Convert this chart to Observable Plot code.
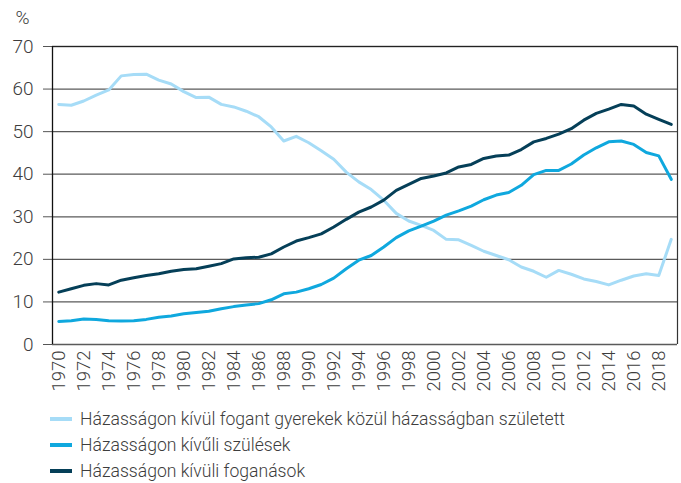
<!DOCTYPE html>
<html><head><meta charset="utf-8">
<script src="https://cdn.jsdelivr.net/npm/d3@7"></script>
<script src="https://cdn.jsdelivr.net/npm/@observablehq/plot@0.6"></script>
<style>
body{margin:0;background:#fff;font-family:Roboto,"Liberation Sans",sans-serif;font-weight:300;color:#3d3d3d;}
#legend{margin:11px 0 0 50px;}
.row{height:26px;display:flex;align-items:center;font-size:17.6px;line-height:20px;}
.sw{width:22px;height:3.5px;margin-right:8px;}
</style>
</head><body><div id="chart"></div><div id="legend"></div>
<script>
const years = [1970,1971,1972,1973,1974,1975,1976,1977,1978,1979,1980,1981,1982,1983,1984,1985,1986,1987,1988,1989,1990,1991,1992,1993,1994,1995,1996,1997,1998,1999,2000,2001,2002,2003,2004,2005,2006,2007,2008,2009,2010,2011,2012,2013,2014,2015,2016,2017,2018,2019];
const seriesNames = ["Házasságon kívül fogant gyerekek közül házasságban született","Házasságon kívűli szülések","Házasságon kívüli foganások"];
const seriesColors = ["#a6dcf7","#0fa8de","#053f58"];
const marriedAmongExtramarital = [56.4,56.2,57.2,58.6,59.8,63.1,63.4,63.5,62.1,61.2,59.4,58.0,58.1,56.4,55.8,54.8,53.5,51.1,47.8,48.9,47.4,45.5,43.5,40.5,38.2,36.4,33.9,30.8,29.0,28.0,26.8,24.7,24.6,23.3,21.9,20.9,19.9,18.2,17.2,15.8,17.4,16.5,15.4,14.8,14.0,15.1,16.1,16.6,16.2,24.7];
const extramaritalBirths = [5.4,5.6,6.0,5.9,5.6,5.5,5.6,5.9,6.4,6.7,7.2,7.5,7.8,8.4,8.9,9.3,9.6,10.5,11.9,12.3,13.1,14.1,15.6,17.8,19.8,20.9,22.9,25.1,26.7,27.8,29.0,30.4,31.4,32.5,34.0,35.1,35.7,37.4,39.9,40.9,40.9,42.4,44.5,46.2,47.6,47.8,47.0,45.1,44.3,38.8];
const extramaritalConceptions = [12.3,13.1,13.9,14.3,14.0,15.1,15.7,16.2,16.6,17.2,17.6,17.8,18.4,19.0,20.1,20.4,20.5,21.3,22.9,24.3,25.1,26.0,27.6,29.4,31.1,32.3,33.9,36.2,37.6,39.0,39.6,40.3,41.7,42.3,43.7,44.3,44.5,45.8,47.6,48.4,49.4,50.7,52.7,54.3,55.3,56.4,56.0,54.1,52.9,51.7];
const xTicks = [1970,1972,1974,1976,1978,1980,1982,1984,1986,1988,1990,1992,1994,1996,1998,2000,2002,2004,2006,2008,2010,2012,2014,2016,2018];
const yTicks = [0,10,20,30,40,50,60,70];
const unitLabel = "%";

const allSeries = [marriedAmongExtramarital, extramaritalBirths, extramaritalConceptions];
const data = [];
allSeries.forEach((vals, i) => vals.forEach((v, j) => data.push({year: years[j], value: v, series: seriesNames[i]})));

const chart = Plot.plot({
  width: 681, height: 395,
  marginLeft: 52, marginRight: 4, marginTop: 46, marginBottom: 51,
  style: {fontFamily: "Roboto, 'Liberation Sans', sans-serif", fontWeight: 300, color: "#3d3d3d", background: "#fff"},
  x: {domain: [1969.5, 2019.5]},
  y: {domain: [0, 70]},
  color: {domain: seriesNames, range: seriesColors},
  marks: [
    Plot.gridY(yTicks, {stroke: "#5a5a5a", strokeOpacity: 1, strokeWidth: 1.3}),
    Plot.ruleX([2019.5], {stroke: "#333", strokeWidth: 1.2}),
    Plot.ruleY([70], {stroke: "#222", strokeWidth: 1.2}),
    Plot.axisY({ticks: yTicks, tickSize: 9, tickPadding: 10, fontSize: 19, stroke: "#555", label: null, tickFormat: d => String(d)}),
    Plot.axisX({ticks: xTicks, tickRotate: -90, tickSize: 0, tickPadding: 6, fontSize: 18.5, tickFormat: d => String(d), label: null}),
    Plot.ruleX([1969.5], {stroke: "#111", strokeWidth: 1.3}),
    Plot.line(data, {x: "year", y: "value", z: "series", stroke: "series", strokeWidth: 3, strokeLinejoin: "round"}),
    Plot.text([unitLabel], {frameAnchor: "top-left", dx: -37, dy: -36, textAnchor: "start", lineAnchor: "top", fontSize: 19, fill: "#3d3d3d"})
  ]
});
document.getElementById("chart").appendChild(chart);

const legend = document.getElementById("legend");
seriesNames.forEach((n, i) => {
  const r = document.createElement("div"); r.className = "row";
  const s = document.createElement("div"); s.className = "sw"; s.style.background = seriesColors[i];
  const t = document.createElement("span"); t.textContent = n;
  r.appendChild(s); r.appendChild(t); legend.appendChild(r);
});
</script>
</body></html>
